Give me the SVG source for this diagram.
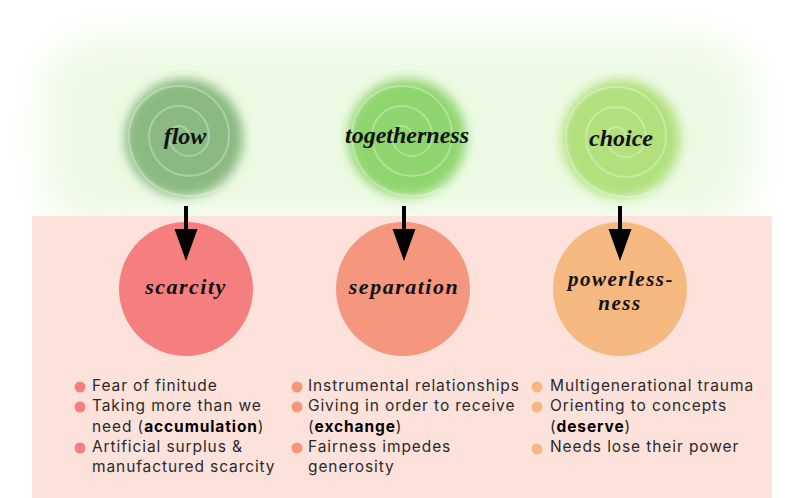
<svg xmlns="http://www.w3.org/2000/svg" width="796" height="498" viewBox="0 0 796 498">
<defs>
<filter id="glow" x="-20%" y="-50%" width="140%" height="200%"><feGaussianBlur stdDeviation="20"/></filter>
<filter id="soft" x="-30%" y="-30%" width="160%" height="160%"><feGaussianBlur stdDeviation="5.5"/></filter>
<marker id="ah" markerUnits="userSpaceOnUse" markerWidth="34" markerHeight="26" viewBox="0 -13 34 26" refX="0" refY="0" orient="auto"><path d="M0,-11.5 L32,0 L0,11.5 Z" fill="#000"/></marker>
<path id="spiral" d="M10 0 A10 10 0 0 0 -10 0 A20 20 0 0 0 30 0 A30 30 0 0 0 -30 0 A40 40 0 0 0 50 0 A50 50 0 0 0 -50 0 A60 60 0 0 0 40 52"/>
</defs>
<style>
.sp{fill:none;stroke:#ffffff;stroke-opacity:0.3;stroke-width:2}
.top{font-family:"Liberation Serif",serif;font-style:italic;font-weight:bold;font-size:24px;fill:#111;text-anchor:middle}
.bot{font-family:"Liberation Serif",serif;font-style:italic;font-weight:bold;font-size:22px;fill:#111;text-anchor:middle;letter-spacing:1.5px}
.bot2{font-size:21px}
.li{font-family:Inter,"Noto Sans",sans-serif;font-size:15.5px;fill:#2a2a2a;letter-spacing:0.9px}
.li tspan.b{font-weight:bold;fill:#000}
.arr{stroke:#000;stroke-width:4;marker-end:url(#ah)}
</style>
<rect x="45" y="40" width="706" height="185" rx="50" fill="#e9f9de" fill-opacity="0.85" filter="url(#glow)"/>
<rect x="32" y="216" width="740" height="282" fill="#fde2db"/>

<g id="flow">
<circle cx="184" cy="138" r="59" fill="#8ab981" filter="url(#soft)"/>
<use href="#spiral" class="sp" transform="translate(179,136)"/>
<text class="top" x="185" y="144">flow</text>
</g>
<g id="togetherness">
<circle cx="407" cy="138" r="59" fill="#8fd56d" filter="url(#soft)"/>
<use href="#spiral" class="sp" transform="translate(402,136)"/>
<text class="top" x="407" y="143">togetherness</text>
</g>
<g id="choice">
<circle cx="621" cy="139" r="59" fill="#b1e07b" filter="url(#soft)"/>
<use href="#spiral" class="sp" transform="translate(616,137)"/>
<text class="top" x="621" y="146">choice</text>
</g>

<g id="scarcity">
<circle cx="186" cy="289" r="67" fill="#f57f7e"/>
<text class="bot" x="186" y="294">scarcity</text>
</g>
<g id="separation">
<circle cx="403" cy="289" r="67" fill="#f5977e"/>
<text class="bot" x="404" y="294">separation</text>
</g>
<g id="powerlessness">
<circle cx="620" cy="289" r="67" fill="#f5b880"/>
<text class="bot bot2" x="621" y="286">powerless-</text>
<text class="bot bot2" x="620" y="310">ness</text>
</g>

<g id="connectors">
<line class="arr" x1="186" y1="206" x2="186" y2="229"/>
<line class="arr" x1="404" y1="206" x2="404" y2="229"/>
<line class="arr" x1="620" y1="206" x2="620" y2="229"/>
</g>

<g id="list-scarcity">
<circle cx="80" cy="387" r="5.5" fill="#f57f7e"/>
<circle cx="80" cy="407" r="5.5" fill="#f57f7e"/>
<circle cx="80" cy="448" r="5.5" fill="#f57f7e"/>
<text class="li" x="92" y="391">Fear of finitude</text>
<text class="li" x="92" y="411">Taking more than we</text>
<text class="li" x="92" y="432">need (<tspan class="b">accumulation</tspan>)</text>
<text class="li" x="92" y="452">Artificial surplus &amp;</text>
<text class="li" x="92" y="472">manufactured scarcity</text>
</g>
<g id="list-separation">
<circle cx="297" cy="387" r="5.5" fill="#f5977e"/>
<circle cx="297" cy="407" r="5.5" fill="#f5977e"/>
<circle cx="297" cy="448" r="5.5" fill="#f5977e"/>
<text class="li" x="308" y="391">Instrumental relationships</text>
<text class="li" x="308" y="411">Giving in order to receive</text>
<text class="li" x="308" y="432">(<tspan class="b">exchange</tspan>)</text>
<text class="li" x="308" y="452">Fairness impedes</text>
<text class="li" x="308" y="472">generosity</text>
</g>
<g id="list-powerlessness">
<circle cx="537" cy="387" r="5.5" fill="#f5b880"/>
<circle cx="537" cy="407" r="5.5" fill="#f5b880"/>
<circle cx="537" cy="449" r="5.5" fill="#f5b880"/>
<text class="li" x="550" y="391">Multigenerational trauma</text>
<text class="li" x="550" y="411">Orienting to concepts</text>
<text class="li" x="550" y="432">(<tspan class="b">deserve</tspan>)</text>
<text class="li" x="550" y="452">Needs lose their power</text>
</g>
</svg>
